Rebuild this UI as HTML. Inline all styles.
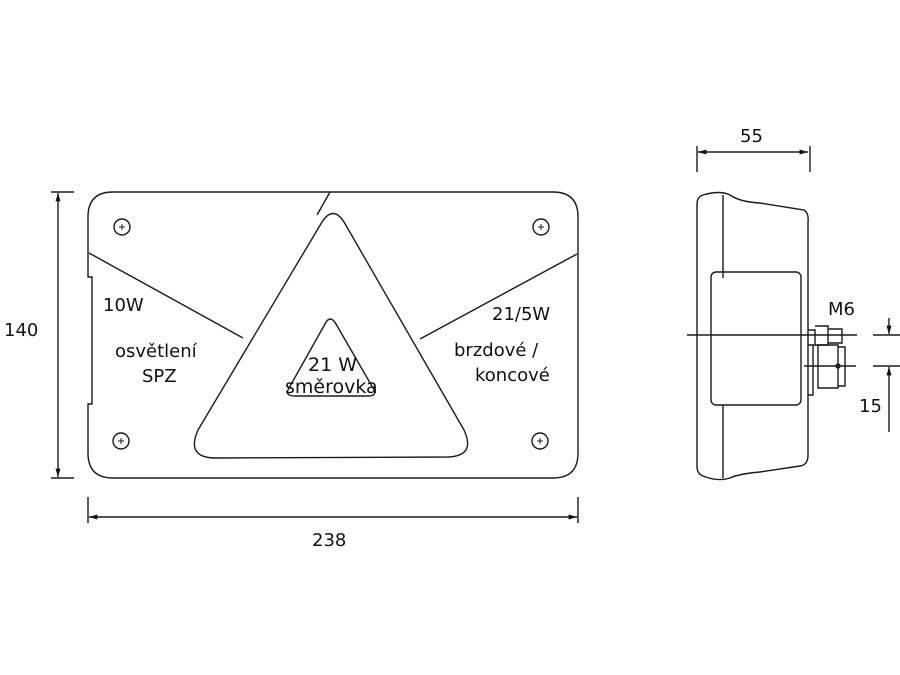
<!DOCTYPE html>
<html><head><meta charset="utf-8"><style>
html,body{margin:0;padding:0;background:#fff}
svg{display:block}
text{font-family:"DejaVu Sans","Liberation Sans",sans-serif;fill:#111}
</style></head><body>
<svg width="900" height="675" viewBox="0 0 900 675" xmlns="http://www.w3.org/2000/svg">
<defs>
<marker id="a" viewBox="0 0 10 10" refX="10" refY="5" markerWidth="8" markerHeight="6" orient="auto-start-reverse"><path d="M0,2 L10,5 L0,8 z" fill="#111"/></marker>
</defs>
<g fill="none" stroke="#1a1a1a" stroke-width="1.4">
<path d="M113,192 H553 Q578,192 578,217 V453 Q578,478 553,478 H113 Q88,478 88,453 V404 H92 V277 H88 V217 Q88,192 113,192 Z"/>
<line x1="89" y1="253" x2="243" y2="338"/>
<line x1="577" y1="254" x2="420" y2="339"/>
<line x1="330" y1="192" x2="317" y2="215"/>
<path d="M322,222 Q333,205 344,222 L464,430 Q476,456 448,457 L214,458 Q186,457 198,430 Z"/>
<path d="M325,324 Q330,314 336,324 L373,388 Q378,396 368,396 L295,396 Q284,396 289,388 Z"/>
<g>
<circle cx="122" cy="227" r="8"/><circle cx="541" cy="227" r="8"/>
<circle cx="121" cy="441" r="8"/><circle cx="540" cy="441" r="8"/>
</g>
<g stroke-width="1">
<path d="M119,227h6M122,224v6M538,227h6M541,224v6M118,441h6M121,438v6M537,441h6M540,438v6"/>
</g>
<line x1="58" y1="193" x2="58" y2="477" marker-start="url(#a)" marker-end="url(#a)"/>
<line x1="51" y1="192" x2="74" y2="192"/><line x1="51" y1="478" x2="74" y2="478"/>
<line x1="89" y1="517" x2="577" y2="517" marker-start="url(#a)" marker-end="url(#a)"/>
<line x1="88" y1="497" x2="88" y2="523"/><line x1="578" y1="497" x2="578" y2="523"/>
<path d="M703,195 Q720,190 730,195 Q740,202 760,203 L804,210 Q809,213 808,222 V455 Q808,465 800,466 L760,472 Q738,474 730,478 Q718,482 703,476 Q697,474 697,466 V204 Q697,197 703,195 Z"/>
<line x1="723" y1="195" x2="723" y2="278"/><line x1="723" y1="405" x2="723" y2="478"/>
<rect x="711" y="272" width="90" height="133" rx="5"/>
<line x1="687" y1="335" x2="857" y2="335"/>
<line x1="804" y1="366" x2="856" y2="366"/>
<path d="M808,330 H815 V345 H808 M815,326 H828 V345 H815 M828,329 H842 V343 H828"/>
<path d="M813,345 V395 H808 M818,345 H838 V388 H818 Z M838,347 H845 V386 H838"/>
<circle cx="838" cy="366" r="2"/>
<line x1="698" y1="152" x2="808" y2="152" marker-start="url(#a)" marker-end="url(#a)"/>
<line x1="697" y1="146" x2="697" y2="172"/><line x1="810" y1="146" x2="810" y2="172"/>
<line x1="873" y1="335" x2="900" y2="335"/><line x1="873" y1="366" x2="900" y2="366"/>
<line x1="889" y1="318" x2="889" y2="334" marker-end="url(#a)"/>
<line x1="889" y1="432" x2="889" y2="367" marker-end="url(#a)"/>
</g>
<g font-size="18">
<text x="103" y="311">10W</text>
<text x="115" y="357">osvětlení</text>
<text x="142" y="382">SPZ</text>
<text x="308" y="371" font-size="19">21 W</text>
<text x="285" y="393" font-size="19">směrovka</text>
<text x="492" y="320">21/5W</text>
<text x="454" y="356">brzdové /</text>
<text x="475" y="381">koncové</text>
<text x="4" y="336">140</text>
<text x="312" y="546">238</text>
<text x="740" y="142">55</text>
<text x="828" y="315">M6</text>
<text x="859" y="412">15</text>
</g>
</svg>
</body></html>
